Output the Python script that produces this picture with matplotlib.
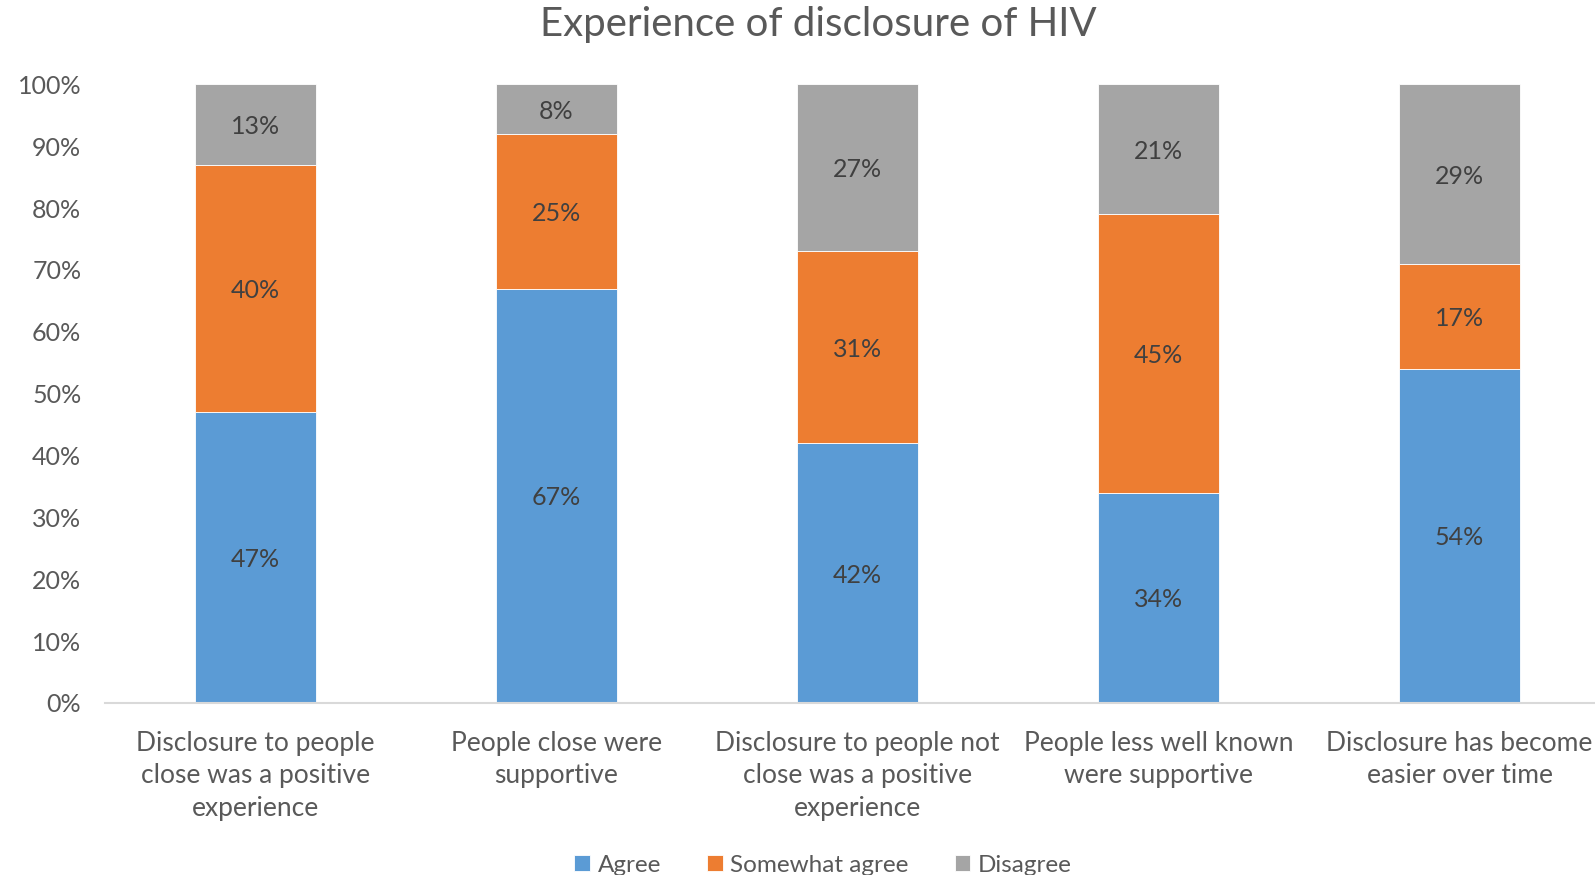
import numpy as np
import matplotlib.pyplot as plt

plt.rcParams.update({"font.family": ["Lato", "DejaVu Sans"], "font.size": 18})

categories = [
    "Disclosure to people\nclose was a positive\nexperience",
    "People close were\nsupportive",
    "Disclosure to people not\nclose was a positive\nexperience",
    "People less well known\nwere supportive",
    "Disclosure has become\neasier over time",
]
agree = [47, 67, 42, 34, 54]
somewhat = [40, 25, 31, 45, 17]
disagree = [13, 8, 27, 21, 29]

series = [
    ("Agree", agree, "#5B9BD5"),
    ("Somewhat agree", somewhat, "#ED7D31"),
    ("Disagree", disagree, "#A5A5A5"),
]

text_color = "#595959"

fig = plt.figure(figsize=(15.95, 8.75), dpi=100)
ax = fig.add_axes([0.0658, 0.1966, 0.9342, 0.7069])

x = np.arange(len(categories))
bottom = np.zeros(len(categories))
for name, vals, color in series:
    vals = np.array(vals, dtype=float)
    ax.bar(x, vals, 0.4, bottom=bottom, color=color, label=name,
           edgecolor="white", linewidth=0.6)
    for xi, b, v in zip(x, bottom, vals):
        ax.text(xi, b + v / 2, f"{v:.0f}%", ha="center", va="center_baseline",
                color="#404040", fontsize=18)
    bottom += vals

ax.set_xlim(-0.5, 4.45)
ax.set_ylim(0, 100)
ax.set_yticks(np.arange(0, 101, 10))
ax.set_yticklabels([f"{v}%" for v in range(0, 101, 10)])
ax.set_xticks(x)
ax.set_xticklabels(categories, linespacing=1.38)

for side in ["top", "right", "left"]:
    ax.spines[side].set_visible(False)
ax.spines["bottom"].set_color("#D9D9D9")
ax.spines["bottom"].set_linewidth(1.5)
ax.tick_params(axis="both", length=0, colors=text_color)
ax.tick_params(axis="x", labelsize=19, pad=20)
ax.tick_params(axis="y", labelsize=18, pad=17)

fig.text(0.513, 0.972, "Experience of disclosure of HIV", ha="center", va="center",
         fontsize=29, color=text_color)

fig.legend(loc="lower center", bbox_to_anchor=(0.516, -0.026), ncol=3, frameon=False,
           handlelength=0.65, handleheight=0.65, handletextpad=0.3, columnspacing=1.9,
           labelcolor=text_color, fontsize=17.5)

fig.savefig("out.png", dpi=100)
